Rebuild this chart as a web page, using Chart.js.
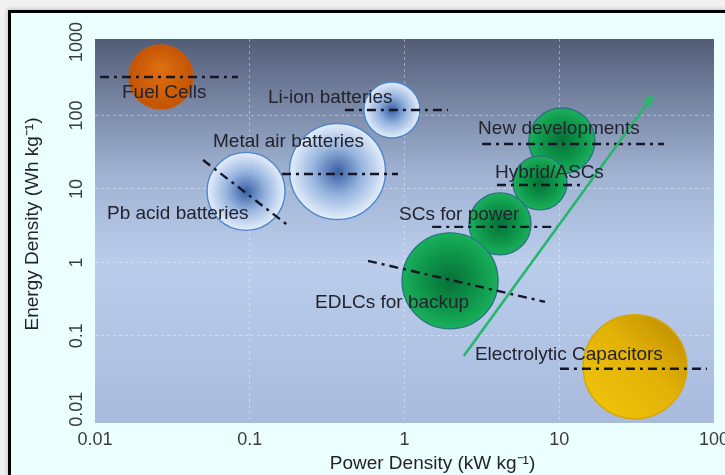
<!DOCTYPE html>
<html>
<head>
<meta charset="utf-8">
<title>Ragone plot</title>
<script src="https://cdn.jsdelivr.net/npm/chart.js@4.4.1/dist/chart.umd.min.js"></script>
<style>
  html, body { margin: 0; padding: 0; background: #f1f1f1; overflow: hidden; }
  .frame {
    position: absolute; left: 8px; top: 10px; width: 780px; height: 540px;
    border-left: 3px solid #000; border-top: 3px solid #000;
    background: #ebffff; box-shadow: -1px -1px 4px rgba(0,0,0,0.18);
  }
  #ragoneChart { position: absolute; left: 0; top: 0; }
</style>
</head>
<body>
<div class="frame"></div>
<canvas id="ragoneChart" width="725" height="475"></canvas>
<script>
// Devices and their values (kW/kg and Wh/kg)
const deviceNames = ['Fuel Cells', 'Li-ion batteries', 'Metal air batteries', 'Pb acid batteries',
  'New developments', 'Hybrid/ASCs', 'SCs for power', 'EDLCs for backup', 'Electrolytic Capacitors'];
const deviceGroup = ['fuel', 'battery', 'battery', 'battery', 'sc', 'sc', 'sc', 'sc', 'electrolytic'];
const powerDensity = [0.0267, 0.830, 0.369, 0.0946, 10.4, 7.51, 4.14, 1.97, 30.9];
const energyDensity = [334, 119, 17.3, 9.25, 45.0, 12.1, 3.34, 0.560, 0.0379];
const bubbleSize = [32, 28, 48, 39, 33, 27, 31, 48, 52];

// Where each name sits (data units, left end of the text)
const labelPower = [0.01494, 0.131, 0.0579, 0.01196, 2.99, 3.85, 0.922, 0.264, 2.85];
const labelEnergy = [202, 173, 43.6, 4.57, 65.5, 16.5, 4.43, 0.281, 0.0551];

// Dash-dot range lines, one per device
const rangeStartPower = [0.01077, 0.412, 0.1616, 0.0499, 3.17, 3.96, 1.51, 0.581, 10.1];
const rangeEndPower = [0.0839, 1.91, 0.908, 0.182, 47.5, 13.6, 9.67, 8.09, 90.1];
const rangeStartEnergy = [334, 119, 16.0, 24.8, 40.9, 11.3, 3.04, 1.05, 0.0356];
const rangeEndEnergy = [334, 119, 16.0, 3.04, 40.9, 11.3, 3.04, 0.290, 0.0356];

// Green trend arrow
const trendPower = [2.42, 39.7];
const trendEnergy = [0.0535, 178.6];

// Axis ticks and titles
const powerTicks = [0.01, 0.1, 1, 10, 100];
const energyTicks = [0.01, 0.1, 1, 10, 100, 1000];
const powerTitle = 'Power Density (kW kg⁻¹)';
const energyTitle = 'Energy Density (Wh kg⁻¹)';

const FONT = "'Liberation Sans', Arial, sans-serif";
const TEXT_COLOR = '#23232e';

// Gradient fill for each bubble
function bubbleFill(context) {
    const chart = context.chart;
    const i = context.dataIndex;
    if (i === undefined || !chart.chartArea) return 'rgba(0,0,0,0)';
    const ctx = chart.ctx;
    const cx = chart.scales.x.getPixelForValue(powerDensity[i]);
    const cy = chart.scales.y.getPixelForValue(energyDensity[i]);
    const r = bubbleSize[i];
    let g;
    if (deviceGroup[i] === 'battery') {
        g = ctx.createRadialGradient(cx, cy, 0, cx, cy, r);
        g.addColorStop(0, 'rgb(58,96,165)');
        g.addColorStop(0.5, 'rgb(150,180,222)');
        g.addColorStop(1, 'rgb(228,238,251)');
    } else if (deviceGroup[i] === 'sc') {
        g = ctx.createRadialGradient(cx, cy, 0, cx, cy, r);
        g.addColorStop(0, 'rgb(6,112,56)');
        g.addColorStop(0.6, 'rgb(14,150,74)');
        g.addColorStop(1, 'rgb(26,176,92)');
    } else if (deviceGroup[i] === 'fuel') {
        g = ctx.createRadialGradient(cx, cy - r * 0.3, 0, cx, cy, r);
        g.addColorStop(0, 'rgb(222,112,18)');
        g.addColorStop(1, 'rgb(196,84,4)');
    } else {
        g = ctx.createLinearGradient(cx - r, cy + r, cx + r, cy - r);
        g.addColorStop(0, 'rgb(242,198,12)');
        g.addColorStop(0.55, 'rgb(226,178,6)');
        g.addColorStop(1, 'rgb(186,136,0)');
    }
    return g;
}

function bubbleBorder(context) {
    const grp = deviceGroup[context.dataIndex];
    if (grp === 'battery') return 'rgb(78,134,206)';
    if (grp === 'sc') return 'rgb(40,118,128)';
    if (grp === 'fuel') return 'rgb(200,88,6)';
    return 'rgb(214,166,4)';
}

// Plot area background
const plotBackground = {
    id: 'plotBackground',
    beforeDraw(chart) {
        const {ctx, chartArea: a} = chart;
        const g = ctx.createLinearGradient(0, a.top, 0, a.bottom);
        g.addColorStop(0, 'rgb(82,92,118)');
        g.addColorStop(0.15, 'rgb(116,130,160)');
        g.addColorStop(0.35, 'rgb(160,178,210)');
        g.addColorStop(0.58, 'rgb(186,205,235)');
        g.addColorStop(1, 'rgb(168,187,221)');
        ctx.save();
        ctx.fillStyle = g;
        ctx.fillRect(a.left, a.top, a.right - a.left, a.bottom - a.top);
        ctx.restore();
    }
};

// Vertical tick labels and both axis titles
const axisText = {
    id: 'axisText',
    afterDraw(chart) {
        const {ctx, chartArea: a} = chart;
        const y = chart.scales.y;
        ctx.save();
        ctx.textAlign = 'center';
        ctx.textBaseline = 'middle';
        ctx.font = '18px ' + FONT;
        ctx.fillStyle = '#3a3a40';
        energyTicks.forEach(v => {
            ctx.save();
            ctx.translate(a.left - 18, y.getPixelForValue(v));
            ctx.rotate(-Math.PI / 2);
            ctx.fillText(String(v), 0, 0);
            ctx.restore();
        });

        ctx.font = '19px ' + FONT;
        ctx.fillStyle = TEXT_COLOR;
        ctx.fillText(powerTitle, (a.left + a.right) / 2 + 28, a.bottom + 41);
        ctx.translate(a.left - 62, (a.top + a.bottom) / 2 - 7);
        ctx.rotate(-Math.PI / 2);
        ctx.fillText(energyTitle, 0, 0);
        ctx.restore();
    }
};

// Arrow head and device names
const annotations = {
    id: 'annotations',
    afterDatasetsDraw(chart) {
        const {ctx} = chart;
        const xs = chart.scales.x, ys = chart.scales.y;

        const x0 = xs.getPixelForValue(trendPower[0]), y0 = ys.getPixelForValue(trendEnergy[0]);
        const x1 = xs.getPixelForValue(trendPower[1]), y1 = ys.getPixelForValue(trendEnergy[1]);
        const ang = Math.atan2(y1 - y0, x1 - x0);
        ctx.save();
        ctx.fillStyle = 'rgb(38,182,108)';
        ctx.translate(x1, y1);
        ctx.rotate(ang);
        ctx.beginPath();
        ctx.moveTo(4, 0);
        ctx.lineTo(-9, -5);
        ctx.lineTo(-9, 5);
        ctx.closePath();
        ctx.fill();
        ctx.restore();

        ctx.save();
        ctx.font = '19px ' + FONT;
        ctx.fillStyle = TEXT_COLOR;
        ctx.textAlign = 'left';
        ctx.textBaseline = 'middle';
        deviceNames.forEach((name, i) => {
            ctx.fillText(name, xs.getPixelForValue(labelPower[i]), ys.getPixelForValue(labelEnergy[i]));
        });
        ctx.restore();
    }
};

const rangeDatasets = deviceNames.map((name, i) => ({
    type: 'line',
    label: name + ' range',
    data: [
        {x: rangeStartPower[i], y: rangeStartEnergy[i]},
        {x: rangeEndPower[i], y: rangeEndEnergy[i]}
    ],
    borderColor: 'rgb(22,22,38)',
    borderWidth: 2.4,
    borderDash: [9, 5, 3, 5],
    pointRadius: 0,
    tension: 0,
    fill: false,
    order: 2
}));

const ctx = document.getElementById('ragoneChart').getContext('2d');
new Chart(ctx, {
    type: 'bubble',
    data: {
        datasets: [
            {
                label: 'Devices',
                data: deviceNames.map((n, i) => ({x: powerDensity[i], y: energyDensity[i], r: bubbleSize[i]})),
                backgroundColor: bubbleFill,
                borderColor: bubbleBorder,
                borderWidth: 1.4,
                order: 3
            },
            ...rangeDatasets,
            {
                type: 'line',
                label: 'Trend',
                data: trendPower.map((p, i) => ({x: p, y: trendEnergy[i]})),
                borderColor: 'rgb(38,182,108)',
                borderWidth: 2.6,
                pointRadius: 0,
                tension: 0,
                fill: false,
                order: 1
            }
        ]
    },
    options: {
        responsive: false,
        devicePixelRatio: 1,
        animation: false,
        events: [],
        layout: {
            autoPadding: false,
            padding: {top: 39, right: 11, left: 0, bottom: 0}
        },
        plugins: {
            legend: {display: false},
            tooltip: {enabled: false}
        },
        scales: {
            x: {
                type: 'logarithmic',
                min: 0.01,
                max: 100,
                afterBuildTicks: scale => { scale.ticks = powerTicks.map(v => ({value: v})); },
                afterFit: scale => { scale.height = 52; scale.paddingLeft = 0; scale.paddingRight = 0; },
                ticks: {
                    autoSkip: false,
                    maxRotation: 0,
                    padding: 6,
                    color: '#3a3a40',
                    font: {family: FONT, size: 18},
                    callback: value => String(value)
                },
                grid: {
                    drawTicks: false,
                    lineWidth: 1,
                    color: c => (c.tick && (c.tick.value === 0.01 || c.tick.value === 100)) ? 'rgba(0,0,0,0)' : 'rgba(255,255,255,0.38)'
                },
                border: {display: false, dash: [3, 3]},
                title: {display: false}
            },
            y: {
                type: 'logarithmic',
                min: 0.0065,
                max: 1100,
                afterBuildTicks: scale => { scale.ticks = energyTicks.map(v => ({value: v})); },
                afterFit: scale => { scale.width = 95; scale.paddingTop = 0; scale.paddingBottom = 0; },
                ticks: {display: false},
                grid: {
                    drawTicks: false,
                    lineWidth: 1,
                    color: c => (c.tick && (c.tick.value === 0.01 || c.tick.value === 1000)) ? 'rgba(0,0,0,0)' : 'rgba(255,255,255,0.38)'
                },
                border: {display: false, dash: [3, 3]},
                title: {display: false}
            }
        }
    },
    plugins: [plotBackground, axisText, annotations]
});
</script>
</body>
</html>
